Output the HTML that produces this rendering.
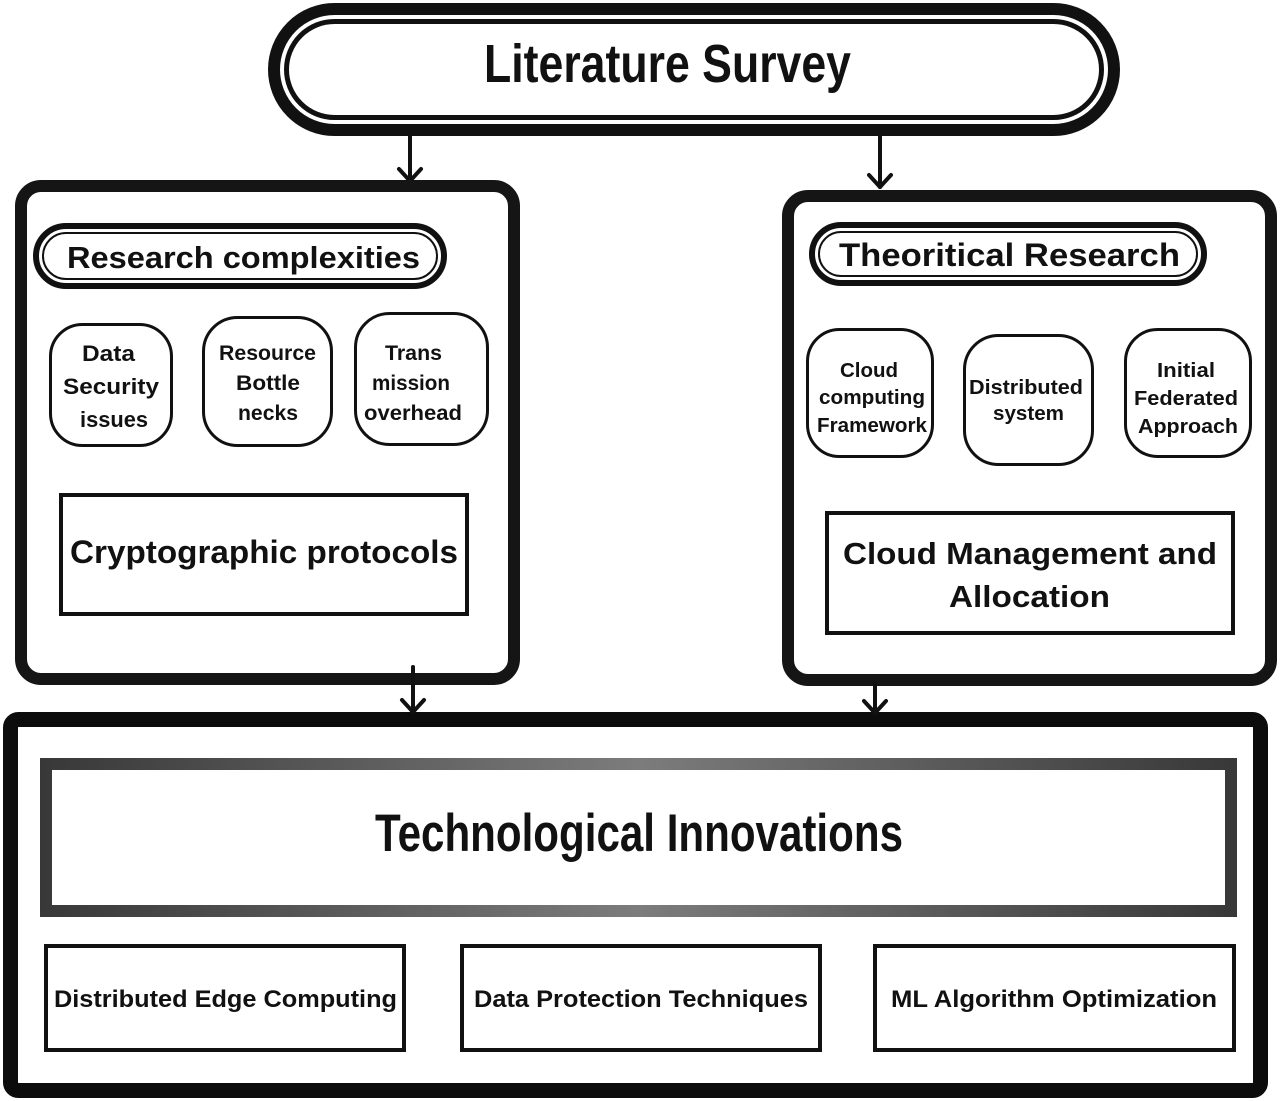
<!DOCTYPE html>
<html>
<head>
<meta charset="utf-8">
<style>
  html, body { margin:0; padding:0; background:#fff; }
  body { width:1280px; height:1101px; overflow:hidden; }
  svg { display:block; }
  .b { font-family:"Liberation Sans", "DejaVu Sans", sans-serif; font-weight:bold; fill:#111; }
  .c { font-family:"Liberation Sans Narrow", "Liberation Sans", "DejaVu Sans Condensed", sans-serif; font-weight:bold; fill:#111; }
</style>
</head>
<body>
<svg width="1280" height="1101" viewBox="0 0 1280 1101" xmlns="http://www.w3.org/2000/svg">
  <defs>
    <linearGradient id="g" gradientUnits="userSpaceOnUse" x1="40" y1="0" x2="1237" y2="0">
      <stop offset="0" stop-color="#383838"/>
      <stop offset="0.5" stop-color="#7c7c7c"/>
      <stop offset="1" stop-color="#383838"/>
    </linearGradient>
  </defs>

  <!-- Literature Survey pill -->
  <rect x="274" y="9" width="840" height="121" rx="60.5" fill="#fff" stroke="#111" stroke-width="12"/>
  <rect x="286.5" y="21.5" width="815" height="96" rx="48" fill="none" stroke="#111" stroke-width="5"/>
  <text class="c" x="484" y="82" font-size="54" textLength="367" lengthAdjust="spacingAndGlyphs">Literature Survey</text>

  <!-- Arrows from top -->
  <g stroke="#111" stroke-width="4" fill="none" stroke-linecap="round" stroke-linejoin="round">
    <line x1="410" y1="135" x2="410" y2="181"/>
    <polyline points="399,169 410,181 421,169"/>
    <line x1="880" y1="135" x2="880" y2="187"/>
    <polyline points="869,175 880,187 891,175"/>
  </g>

  <!-- Left box -->
  <rect x="21" y="186" width="493" height="493" rx="20" fill="#fff" stroke="#151515" stroke-width="12"/>
  <rect x="36" y="226" width="408" height="60" rx="30" fill="#fff" stroke="#111" stroke-width="6"/>
  <rect x="43" y="233" width="394" height="46" rx="23" fill="none" stroke="#111" stroke-width="2"/>
  <text class="b" x="67" y="268" font-size="31" textLength="353" lengthAdjust="spacingAndGlyphs">Research complexities</text>

  <g fill="#fff" stroke="#111" stroke-width="3">
    <rect x="50.5" y="324.5" width="121" height="121" rx="32"/>
    <rect x="203.5" y="317.5" width="128" height="128" rx="34"/>
    <rect x="355.5" y="313.5" width="132" height="131" rx="34"/>
  </g>
  <g class="b" font-size="22">
    <text class="b" x="82" y="361" textLength="53" lengthAdjust="spacingAndGlyphs">Data</text>
    <text class="b" x="63" y="394" textLength="96" lengthAdjust="spacingAndGlyphs">Security</text>
    <text class="b" x="80" y="427" textLength="68" lengthAdjust="spacingAndGlyphs">issues</text>

    <text class="b" x="219" y="360" font-size="21" textLength="97" lengthAdjust="spacingAndGlyphs">Resource</text>
    <text class="b" x="236" y="390" font-size="21" textLength="64" lengthAdjust="spacingAndGlyphs">Bottle</text>
    <text class="b" x="238" y="420" font-size="21" textLength="60" lengthAdjust="spacingAndGlyphs">necks</text>

    <text class="b" x="385" y="360" font-size="21" textLength="57" lengthAdjust="spacingAndGlyphs">Trans</text>
    <text class="b" x="372" y="390" font-size="21" textLength="78" lengthAdjust="spacingAndGlyphs">mission</text>
    <text class="b" x="364" y="420" font-size="21" textLength="98" lengthAdjust="spacingAndGlyphs">overhead</text>
  </g>

  <rect x="61" y="495" width="406" height="119" fill="#fff" stroke="#111" stroke-width="4"/>
  <text class="b" x="70" y="563" font-size="32" textLength="388" lengthAdjust="spacingAndGlyphs">Cryptographic protocols</text>

  <!-- Right box -->
  <rect x="788" y="196" width="483" height="484" rx="20" fill="#fff" stroke="#151515" stroke-width="12"/>
  <rect x="812" y="225" width="392" height="58" rx="29" fill="#fff" stroke="#111" stroke-width="6"/>
  <rect x="819" y="232" width="378" height="44" rx="22" fill="none" stroke="#111" stroke-width="2"/>
  <text class="b" x="839" y="266" font-size="32" textLength="341" lengthAdjust="spacingAndGlyphs">Theoritical Research</text>

  <g fill="#fff" stroke="#111" stroke-width="3">
    <rect x="807.5" y="329.5" width="125" height="127" rx="32"/>
    <rect x="964.5" y="335.5" width="128" height="129" rx="34"/>
    <rect x="1125.5" y="329.5" width="125" height="127" rx="32"/>
  </g>
  <g>
    <text class="b" x="840" y="377" font-size="20" textLength="58" lengthAdjust="spacingAndGlyphs">Cloud</text>
    <text class="b" x="819" y="404" font-size="20" textLength="106" lengthAdjust="spacingAndGlyphs">computing</text>
    <text class="b" x="817" y="432" font-size="20" textLength="110" lengthAdjust="spacingAndGlyphs">Framework</text>

    <text class="b" x="969" y="394" font-size="20" textLength="114" lengthAdjust="spacingAndGlyphs">Distributed</text>
    <text class="b" x="993" y="420" font-size="20" textLength="71" lengthAdjust="spacingAndGlyphs">system</text>

    <text class="b" x="1157" y="377" font-size="20" textLength="58" lengthAdjust="spacingAndGlyphs">Initial</text>
    <text class="b" x="1134" y="405" font-size="20" textLength="104" lengthAdjust="spacingAndGlyphs">Federated</text>
    <text class="b" x="1138" y="433" font-size="20" textLength="100" lengthAdjust="spacingAndGlyphs">Approach</text>
  </g>

  <rect x="827" y="513" width="406" height="120" fill="#fff" stroke="#111" stroke-width="4"/>
  <text class="b" x="843" y="564" font-size="31" textLength="374" lengthAdjust="spacingAndGlyphs">Cloud Management and</text>
  <text class="b" x="949" y="607" font-size="31" textLength="161" lengthAdjust="spacingAndGlyphs">Allocation</text>

  <!-- Bottom box -->
  <rect x="10.5" y="719.5" width="1250" height="371" rx="8" fill="#fff" stroke="#0c0c0c" stroke-width="15"/>

  <!-- Arrows into bottom box -->
  <g stroke="#111" stroke-width="4" fill="none" stroke-linecap="round" stroke-linejoin="round">
    <line x1="413" y1="667" x2="413" y2="712"/>
    <polyline points="402,700 413,712 424,700"/>
    <line x1="875" y1="683" x2="875" y2="713"/>
    <polyline points="864,701 875,713 886,701"/>
  </g>

  <rect x="46" y="764" width="1185" height="147" fill="#fff" stroke="url(#g)" stroke-width="12"/>
  <text class="c" x="375" y="851" font-size="53" textLength="528" lengthAdjust="spacingAndGlyphs">Technological Innovations</text>

  <g fill="#fff" stroke="#111" stroke-width="4">
    <rect x="46" y="946" width="358" height="104"/>
    <rect x="462" y="946" width="358" height="104"/>
    <rect x="875" y="946" width="359" height="104"/>
  </g>
  <text class="b" x="54" y="1007" font-size="24" textLength="343" lengthAdjust="spacingAndGlyphs">Distributed Edge Computing</text>
  <text class="b" x="474" y="1007" font-size="24" textLength="334" lengthAdjust="spacingAndGlyphs">Data Protection Techniques</text>
  <text class="b" x="891" y="1007" font-size="24" textLength="326" lengthAdjust="spacingAndGlyphs">ML Algorithm Optimization</text>
</svg>
</body>
</html>
